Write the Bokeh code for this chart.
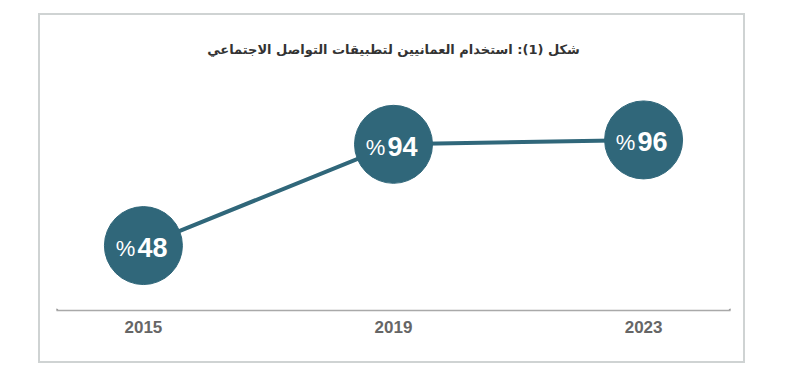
from bokeh.plotting import figure
from bokeh.models import ColumnDataSource, FixedTicker, Range1d, Title
from bokeh.core.properties import value
from bokeh.embed import file_html
from bokeh.resources import INLINE

years = [2015, 2019, 2023]
usage = [48, 94, 96]
tick_labels = {2015: "2015", 2019: "2019", 2023: "2023"}
title_text = "شكل (1): استخدام العمانيين لتطبيقات التواصل الاجتماعي"

TEAL = "#30677a"

src = ColumnDataSource(dict(
    x=years,
    y=usage,
    num=[str(v) for v in usage],
    pct=["%"] * len(usage),
))

x_range = Range1d(2013.61, 2024.39)
y_range = Range1d(18.5, 123.0)

p = figure(width=707, height=350, x_range=x_range, y_range=y_range,
           output_backend="svg", toolbar_location=None,
           min_border_left=16, min_border_right=17,
           min_border_top=65, min_border_bottom=55,
           background_fill_color="white", border_fill_color="white",
           margin=(13, 0, 0, 38))
p.styles = {"border": "2px solid #cfd3d3", "box-sizing": "border-box"}

p.title = Title(text=title_text, align="center", text_font_size="13px",
                text_font_style="bold", text_color="#333333",
                text_font="DejaVu Sans", standoff=48)

p.outline_line_color = None
p.grid.visible = False
p.yaxis.visible = False

ax = p.xaxis[0]
ax.ticker = FixedTicker(ticks=years)
ax.major_label_overrides = tick_labels
ax.axis_line_color = "#a9a9a9"
ax.axis_line_width = 1.5
ax.major_tick_line_color = None
ax.minor_tick_line_color = None
ax.major_label_standoff = 4
ax.major_label_text_font = "Liberation Sans"
ax.major_label_text_font_style = "bold"
ax.major_label_text_font_size = "17px"
ax.major_label_text_color = "#666666"

p.line("x", "y", source=src, line_color=TEAL, line_width=4)
p.scatter("x", "y", source=src, size=78, fill_color=TEAL, line_color=TEAL)

p.text("x", "y", text="num", source=src, text_align="center",
       text_baseline="middle", x_offset=9, y_offset=2,
       text_font=value("Liberation Sans"), text_font_style="bold",
       text_font_size="27px", text_color="white")
p.text("x", "y", text="pct", source=src, text_align="center",
       text_baseline="middle", x_offset=-18, y_offset=3,
       text_font=value("Liberation Sans"),
       text_font_size="22px", text_color="white")

# end dots of the baseline
p.scatter([x_range.start, x_range.end], [y_range.start, y_range.start],
          size=3, color="#8a8a8a")

open("out.html", "w").write(file_html(p, INLINE))
